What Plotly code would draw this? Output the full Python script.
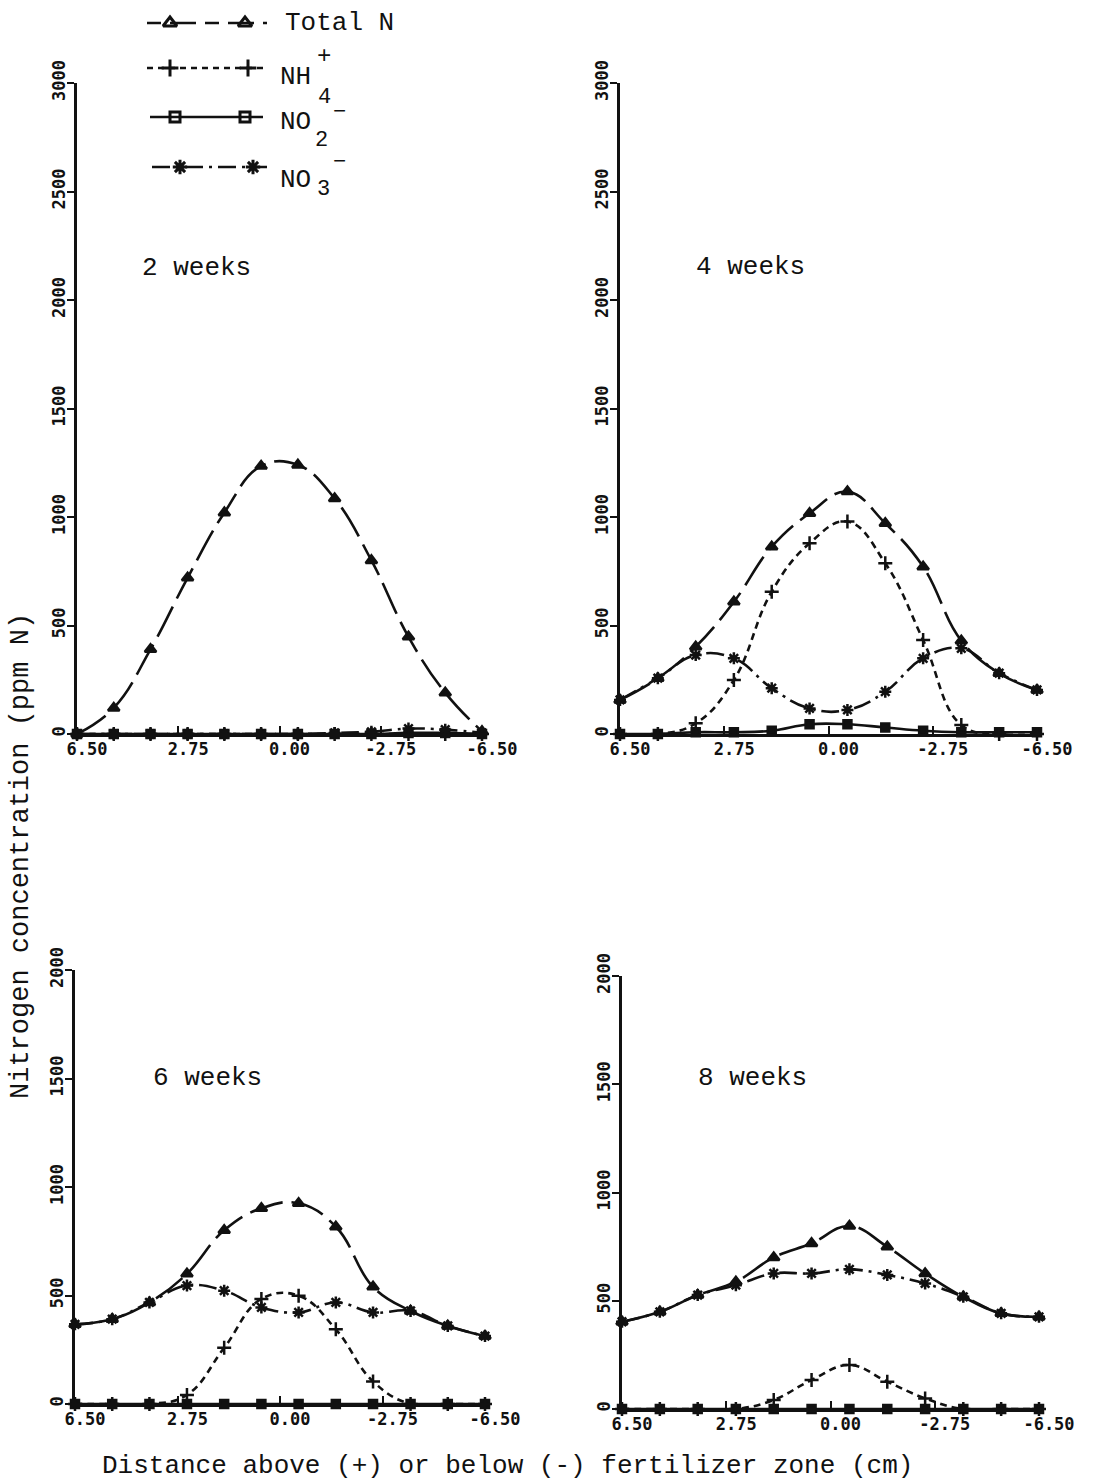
import plotly.graph_objects as go

# ---------------- data ----------------
x_cm = [6.50, 5.32, 4.14, 2.95, 1.77, 0.59, -0.59, -1.77, -2.95, -4.14, -5.32, -6.50]

weeks = ["2 weeks", "4 weeks", "6 weeks", "8 weeks"]

total_2 = [0, 120, 390, 720, 1020, 1235, 1240, 1085, 800, 448, 190, 12]
nh4_2 = [0, 0, 0, 0, 0, 0, 0, 0, 0, 0, 0, 0]
no2_2 = [0, 0, 0, 0, 0, 0, 0, 0, 0, 5, 5, 0]
no3_2 = [0, 0, 0, 0, 0, 0, 0, 5, 10, 25, 20, 5]

total_4 = [157, 257, 402, 609, 863, 1017, 1117, 971, 771, 430, 280, 203]
nh4_4 = [0, 0, 49, 249, 656, 879, 979, 787, 433, 41, 0, 0]
no2_4 = [0, 0, 8, 8, 15, 45, 45, 30, 15, 8, 8, 8]
no3_4 = [157, 257, 364, 349, 211, 118, 111, 195, 349, 395, 280, 203]

total_6 = [367, 391, 468, 600, 801, 902, 925, 817, 540, 429, 360, 313]
nh4_6 = [0, 0, 0, 42, 259, 484, 499, 344, 104, 0, 0, 0]
no2_6 = [0, 0, 0, 0, 0, 0, 0, 0, 0, 0, 0, 0]
no3_6 = [367, 391, 468, 546, 522, 445, 422, 468, 422, 429, 360, 313]

total_8 = [403, 449, 526, 588, 700, 765, 845, 749, 626, 518, 442, 426]
nh4_8 = [0, 0, 0, 0, 42, 134, 203, 126, 49, 0, 0, 0]
no2_8 = [0, 0, 0, 0, 0, 0, 0, 0, 0, 0, 0, 0]
no3_8 = [403, 449, 526, 572, 626, 626, 645, 619, 580, 518, 442, 426]

x_tickvals = [6.5, 3.25, 0.0, -3.25, -6.5]
x_ticktext = ["6.50", "2.75", "0.00", "-2.75", "-6.50"]
y_ticks_top = [0, 500, 1000, 1500, 2000, 2500, 3000]
y_ticks_bottom = [0, 500, 1000, 1500, 2000]

panels = [
    dict(total=total_2, nh4=nh4_2, no2=no2_2, no3=no3_2),
    dict(total=total_4, nh4=nh4_4, no2=no2_4, no3=no3_4),
    dict(total=total_6, nh4=nh4_6, no2=no2_6, no3=no3_6),
    dict(total=total_8, nh4=nh4_8, no2=no2_8, no3=no3_8),
]

# ---------------- layout geometry (pixels) ----------------
W, H = 1106, 1484
# (x_left, x_right, y_zero_px, y_top_px, ymax)
geom = [
    (77, 482, 734, 83, 3000),
    (620, 1037, 734, 83, 3000),
    (75, 485, 1404, 970, 2000),
    (622, 1039, 1409, 976, 2000),
]
label_pos = [(196, 268), (750, 267), (207, 1078), (752, 1078)]

INK = "#111111"
FONT_TXT = "Liberation Mono"
FONT_TICK = "DejaVu Sans Mono"

styles = {
    "no2": dict(dash="solid", symbol="square", legend_symbol="square-open", size=8),
    "nh4": dict(dash="7px,5px", symbol="cross-thin", legend_symbol="cross-thin", size=10),
    "no3": dict(dash="18px,6px,3px,6px", symbol="asterisk", legend_symbol="asterisk", size=10),
    "total": dict(dash="34px,9px", symbol="triangle-up", legend_symbol="triangle-up-open", size=10),
}

fig = go.Figure()

for i, p in enumerate(panels):
    ax = i + 1
    xr = "x" if ax == 1 else f"x{ax}"
    yr = "y" if ax == 1 else f"y{ax}"
    for key in ["no2", "nh4", "no3", "total"]:
        st = styles[key]
        fig.add_trace(go.Scatter(
            x=x_cm, y=p[key], xaxis=xr, yaxis=yr, mode="lines+markers",
            line=dict(color=INK, width=2.6, dash=st["dash"], shape="spline", smoothing=1.2),
            marker=dict(symbol=st["symbol"], size=st["size"], color=INK,
                        line=dict(color=INK, width=2.5)),
            cliponaxis=False, showlegend=False, hoverinfo="skip"))

    xl, xrpx, y0, ytop, ymax = geom[i]
    xdom = [xl / W, xrpx / W]
    ydom = [1 - y0 / H, 1 - ytop / H]
    xa = dict(domain=xdom, range=[6.5, -6.5], showgrid=False, zeroline=False,
              automargin=False,
              showline=True, linecolor=INK, linewidth=2.5,
              tickmode="array", tickvals=x_tickvals, ticktext=x_ticktext,
              ticks="inside", ticklen=8, tickwidth=2, tickcolor=INK,
              ticklabelshift=-10, ticklabelstandoff=-2,
              tickfont=dict(family=FONT_TICK, size=17, color=INK, weight=700),
              anchor=yr)
    yt = y_ticks_top if ymax == 3000 else y_ticks_bottom
    ya = dict(domain=ydom, range=[0, ymax], showgrid=False, zeroline=False,
              automargin=False,
              showline=True, linecolor=INK, linewidth=2.5,
              tickmode="array", tickvals=yt, ticktext=[str(v) for v in yt],
              ticks="outside", ticklen=7, tickwidth=2, tickcolor=INK,
              tickangle=-90, ticklabelstandoff=-5,
              tickfont=dict(family=FONT_TICK, size=17, color=INK, weight=700),
              anchor=xr)
    fig.layout["xaxis" if ax == 1 else f"xaxis{ax}"] = xa
    fig.layout["yaxis" if ax == 1 else f"yaxis{ax}"] = ya

# ---------------- overlay axes (pixel space) for legend / texts ----------------
fig.layout["xaxis5"] = dict(domain=[0, 1], range=[0, W], visible=False, anchor="y5",
                            automargin=False, fixedrange=True)
fig.layout["yaxis5"] = dict(domain=[0, 1], range=[H, 0], visible=False, anchor="x5",
                            automargin=False, fixedrange=True)

legend_rows = [
    ("total", 23, [147, 267], [170, 245]),
    ("nh4", 68, [147, 267], [170, 248]),
    ("no2", 117, [150, 263], [175, 245]),
    ("no3", 167, [152, 267], [180, 253]),
]
for key, yy, (xa0, xa1), mk in legend_rows:
    st = styles[key]
    dash = st["dash"]
    if key == "total":
        dash = "14px,9px,26px,9px"
    if key == "nh4":
        dash = "6px,5px"
    fig.add_trace(go.Scatter(
        x=[xa0, xa1], y=[yy, yy], xaxis="x5", yaxis="y5", mode="lines",
        line=dict(color=INK, width=2.6, dash=dash),
        showlegend=False, hoverinfo="skip"))
    fig.add_trace(go.Scatter(
        x=mk, y=[yy, yy], xaxis="x5", yaxis="y5", mode="markers",
        marker=dict(symbol=st["legend_symbol"], size=st["size"] + 2, color=INK,
                    line=dict(color=INK, width=3)),
        showlegend=False, hoverinfo="skip"))

ann = []
def txt(x, y, s, size=26, xanchor="center"):
    ann.append(dict(x=x, y=y, xref="x5", yref="y5", text=s, showarrow=False,
                    xanchor=xanchor, yanchor="middle",
                    font=dict(family=FONT_TXT, size=size, color=INK)))

txt(283, 23, "Total N", xanchor="left")
# NH4+ : "+" above, "4" below (typewriter-style stacking)
txt(278, 77, "NH", xanchor="left")
txt(324, 56, "+", size=24)
txt(324, 97, "4", size=22)
# NO2-
txt(278, 122, "NO", xanchor="left")
txt(321, 140, "2", size=22)
txt(339, 112, "\u2212", size=22)
# NO3-
txt(278, 180, "NO", xanchor="left")
txt(323, 189, "3", size=22)
txt(339, 162, "\u2212", size=22)

for (lx, ly), w in zip(label_pos, weeks):
    txt(lx, ly, w)

txt(507, 1466, "Distance above (+) or below (-) fertilizer zone (cm)")
ann.append(dict(x=21, y=856, xref="x5", yref="y5",
                text="Nitrogen concentration (ppm N)", showarrow=False,
                textangle=-90, xanchor="center", yanchor="middle",
                font=dict(family=FONT_TXT, size=27, color=INK)))

fig.update_layout(
    width=W, height=H, margin=dict(l=0, r=0, t=0, b=0, autoexpand=False),
    paper_bgcolor="white", plot_bgcolor="rgba(0,0,0,0)",
    annotations=ann, showlegend=False,
)

fig.write_html("out.html")
